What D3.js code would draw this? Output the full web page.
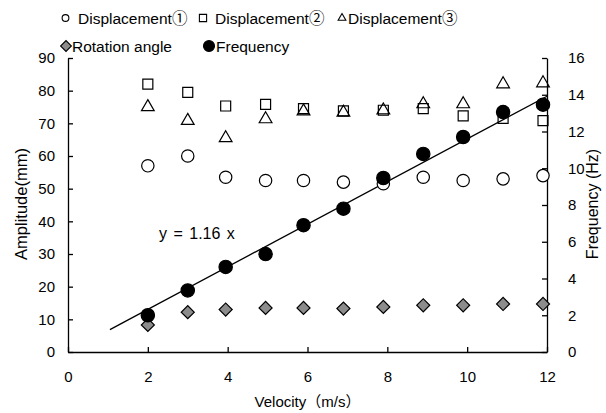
<!DOCTYPE html>
<html>
<head>
<meta charset="utf-8">
<script src="https://cdn.jsdelivr.net/npm/d3@7"></script>
<style>
body { margin: 0; background: #fff; }
text { font-family: "Liberation Sans", Arial, "Noto Sans CJK JP", sans-serif; fill: #000; }
</style>
</head>
<body>
<div id="chart"></div>
<script>
// velocity (m/s) at each measurement
var velocity = [2, 3, 3.95, 4.95, 5.9, 6.9, 7.9, 8.9, 9.9, 10.9, 11.9];
// amplitudes (mm), left axis
var disp1 = [57, 60, 53.5, 52.5, 52.5, 52, 51.5, 53.5, 52.5, 53, 54];
var disp2 = [82, 79.5, 75.3, 75.8, 74.5, 73.8, 74, 74.5, 72.3, 71.5, 70.8];
var disp3 = [75, 70.8, 65.5, 71.3, 73.7, 73.3, 74, 75.9, 75.9, 82, 82.3];
var rotation = [8.3, 12.2, 13, 13.5, 13.5, 13.3, 13.8, 14.3, 14.3, 14.7, 14.7];
// frequency (Hz), right axis
var frequency = [2.0, 3.35, 4.63, 5.33, 6.9, 7.8, 9.47, 10.78, 11.7, 13.06, 13.46];
var slope = 1.16;
var fitRange = [1.05, 12];

var xTicks = [0, 2, 4, 6, 8, 10, 12];
var yTicks = [0, 10, 20, 30, 40, 50, 60, 70, 80, 90];
var y2Ticks = [0, 2, 4, 6, 8, 10, 12, 14, 16];

var width = 606, height = 413;
var margin = {top: 58, right: 59, bottom: 61, left: 68};

var svg = d3.select("#chart").append("svg")
    .attr("width", width)
    .attr("height", height);

var x = d3.scaleLinear().domain([0, 12]).range([margin.left, width - margin.right]);
var y = d3.scaleLinear().domain([0, 90]).range([height - margin.bottom, margin.top]);
var y2 = d3.scaleLinear().domain([0, 16]).range([height - margin.bottom, margin.top]);

// axes, ticks drawn inward
var xAxis = svg.append("g")
    .attr("transform", "translate(0," + (height - margin.bottom) + ")")
    .call(d3.axisBottom(x).tickValues(xTicks).tickSizeInner(-5).tickSizeOuter(0).tickPadding(19));
var yAxis = svg.append("g")
    .attr("transform", "translate(" + margin.left + ",0)")
    .call(d3.axisLeft(y).tickValues(yTicks).tickSizeInner(-5).tickSizeOuter(0).tickPadding(13));
var y2Axis = svg.append("g")
    .attr("transform", "translate(" + (width - margin.right) + ",0)")
    .call(d3.axisRight(y2).tickValues(y2Ticks).tickSizeInner(-5).tickSizeOuter(0).tickPadding(21));

[xAxis, yAxis, y2Axis].forEach(function(g){
    g.selectAll("path, line").attr("stroke", "#000").attr("stroke-width", 1.3);
    g.selectAll("text").style("font-size", "15px").attr("fill", "#000");
});

// axis titles
svg.append("text")
    .attr("x", (x(0) + x(12)) / 2)
    .attr("y", 407)
    .attr("text-anchor", "middle")
    .style("font-size", "15px")
    .text("Velocity\uFF08m/s\uFF09");
svg.append("text")
    .attr("transform", "translate(27,204) rotate(-90)")
    .attr("text-anchor", "middle")
    .style("font-size", "16.5px")
    .text("Amplitude(mm)");
svg.append("text")
    .attr("transform", "translate(598,204) rotate(-90)")
    .attr("text-anchor", "middle")
    .style("font-size", "16px")
    .text("Frequency (Hz)");

// fitted line for frequency
svg.append("line")
    .attr("x1", x(fitRange[0]))
    .attr("y1", y2(slope * fitRange[0]))
    .attr("x2", x(fitRange[1]))
    .attr("y2", y2(slope * fitRange[1]))
    .attr("stroke", "#000")
    .attr("stroke-width", 1.3);

svg.append("text")
    .attr("x", 159)
    .attr("y", 239)
    .style("font-size", "16px")
    .style("word-spacing", "2px")
    .text("y = " + slope + " x");

var sym = {
    circle: d3.symbol().type(d3.symbolCircle),
    square: d3.symbol().type(d3.symbolSquare),
    triangle: d3.symbol().type(d3.symbolTriangle),
    diamond: d3.symbol().type(d3.symbolSquare)
};

var series = [
    {values: disp1, scale: y, shape: "circle", size: 120, fill: "#fff"},
    {values: disp2, scale: y, shape: "square", size: 100, fill: "none"},
    {values: disp3, scale: y, shape: "triangle", size: 70, fill: "none"},
    {values: rotation, scale: y, shape: "diamond", size: 85, fill: "#8c8c8c"},
    {values: frequency, scale: y2, shape: "circle", size: 140, fill: "#000"}
];

series.forEach(function(s){
    svg.append("g").selectAll("path")
        .data(s.values)
        .enter()
        .append("path")
        .attr("d", sym[s.shape].size(s.size))
        .attr("transform", function(d, i){
            return "translate(" + x(velocity[i]) + "," + s.scale(d) + ")" +
                (s.shape == "diamond" ? " rotate(45)" : "");
        })
        .attr("fill", s.fill)
        .attr("stroke", "#000")
        .attr("stroke-width", 1.2);
});

// legend
var legend = [
    {label: "Displacement\u2460", shape: "circle", fill: "#fff", x: 65.5, tx: 78, y: 18, size: 36},
    {label: "Displacement\u2461", shape: "square", fill: "#fff", x: 203, tx: 215, y: 18, size: 52},
    {label: "Displacement\u2462", shape: "triangle", fill: "#fff", x: 342, tx: 348, y: 18, size: 26},
    {label: "Rotation angle", shape: "diamond", fill: "#8c8c8c", x: 66, tx: 72, y: 46, size: 58},
    {label: "Frequency", shape: "circle", fill: "#000", x: 209, tx: 216, y: 46, size: 95}
];
var lg = svg.append("g").selectAll("g")
    .data(legend)
    .enter()
    .append("g");
lg.append("path")
    .attr("d", function(d){ return sym[d.shape].size(d.size)(); })
    .attr("transform", function(d){
        return "translate(" + d.x + "," + d.y + ")" + (d.shape == "diamond" ? " rotate(45)" : "");
    })
    .attr("fill", function(d){ return d.fill; })
    .attr("stroke", "#000")
    .attr("stroke-width", 1.1);
lg.append("text")
    .attr("x", function(d){ return d.tx; })
    .attr("y", function(d){ return d.y + 5.5; })
    .style("font-size", "15.5px")
    .text(function(d){ return d.label; });
</script>
</body>
</html>
